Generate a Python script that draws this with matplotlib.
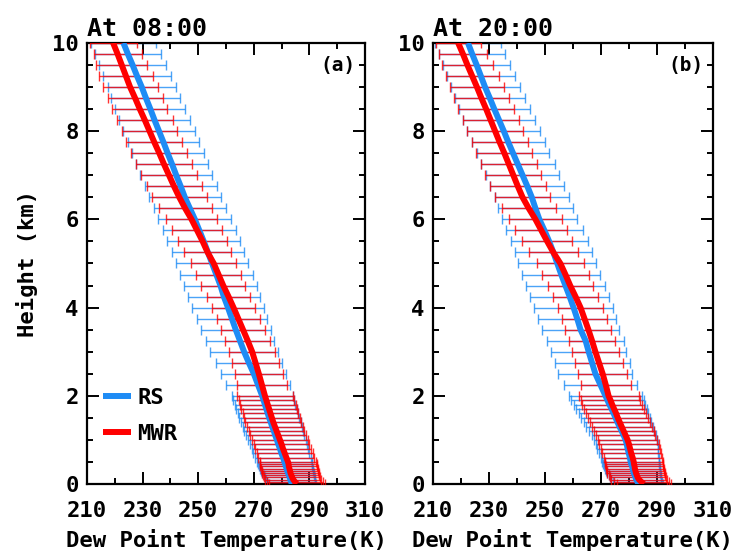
import numpy as np
import matplotlib
matplotlib.use("Agg")
import matplotlib.pyplot as plt
from matplotlib.ticker import MultipleLocator

# ---------------- data ----------------
heights = [0.00, 0.05, 0.10, 0.15, 0.20, 0.25, 0.30, 0.35, 0.40, 0.45, 0.50,
           0.6, 0.7, 0.8, 0.9, 1.0, 1.1, 1.2, 1.3, 1.4, 1.5, 1.6, 1.7, 1.8, 1.9, 2.0,
           2.25, 2.5, 2.75, 3.0, 3.25, 3.5, 3.75, 4.0, 4.25, 4.5, 4.75, 5.0,
           5.25, 5.5, 5.75, 6.0, 6.25, 6.5, 6.75, 7.0, 7.25, 7.5, 7.75, 8.0,
           8.25, 8.5, 8.75, 9.0, 9.25, 9.5, 9.75, 10.0]

# Panel (a) 08:00
rs_08 = [283.7, 283.4, 283.1, 282.9, 282.6, 282.3, 282.0, 281.8, 281.5, 281.3, 281.0,
         280.5, 279.9, 279.4, 278.8, 278.3, 277.7, 277.2, 276.6, 276.1, 275.5, 275.0, 274.5, 274.0, 273.5, 273.0,
         271.5, 270.0, 268.2, 266.5, 265.0, 263.5, 262.1, 260.7, 259.2, 258.0, 256.5, 255.0,
         253.5, 252.0, 250.4, 248.8, 247.0, 245.2, 243.7, 242.1, 240.6, 239.0, 237.5, 235.9,
         234.3, 232.8, 231.2, 229.7, 228.0, 226.4, 224.7, 223.1]
mwr_08 = [285.5, 284.8, 284.2, 283.8, 283.5, 283.2, 283.0, 282.8, 282.6, 282.5, 282.3,
          281.7, 281.1, 280.5, 280.0, 279.4, 278.8, 278.2, 277.6, 277.0, 276.5, 276.0, 275.5, 275.0, 274.5, 274.0,
          272.9, 271.8, 270.6, 269.4, 267.8, 266.1, 264.4, 262.7, 260.9, 259.0, 257.3, 255.6,
          253.4, 251.6, 249.6, 247.6, 245.3, 243.2, 241.3, 239.5, 237.7, 236.0, 234.2, 232.5,
          230.8, 229.0, 227.3, 225.5, 224.0, 222.5, 221.0, 219.4]
rs_err_08 = [8.6, 8.7, 8.8, 9.0, 9.1, 9.2, 9.4, 9.5, 9.6, 9.8, 9.9,
             10.0, 10.1, 10.2, 10.3, 10.4, 10.5, 10.6, 10.6, 10.7, 10.8, 10.8, 10.9, 10.9, 11.0, 11.0,
             11.5, 11.7, 11.9, 12.1, 12.3, 12.5, 12.7, 13.0, 13.0, 13.1, 13.1, 13.0,
             13.0, 13.1, 13.2, 13.1, 13.0, 13.0, 12.9, 12.9, 12.8, 12.9, 12.9, 12.9,
             12.7, 12.6, 12.4, 12.3, 12.2, 12.1, 12.0, 11.8]
mwr_err_08 = [10.0, 10.0, 10.1, 10.1, 10.1, 10.2, 10.2, 10.2, 10.2, 10.2, 10.1,
              10.1, 10.1, 10.1, 10.0, 10.0, 10.0, 10.0, 10.0, 10.0, 10.0, 10.0, 10.0, 10.0, 10.0, 10.0,
              9.0, 8.6, 8.4, 8.3, 8.0, 7.8, 7.7, 7.7, 7.8, 7.9, 8.0, 8.1,
              8.5, 8.8, 9.0, 9.2, 9.5, 9.8, 9.9, 10.0, 10.0, 10.0, 10.0, 10.0,
              10.0, 9.9, 9.9, 9.9, 9.6, 9.2, 8.6, 8.5]

# Panel (b) 20:00
rs_20 = [283.5, 283.0, 282.6, 282.3, 282.0, 281.7, 281.5, 281.3, 281.1, 280.8, 280.6,
         280.3, 279.9, 279.5, 279.2, 278.8, 278.1, 277.4, 276.6, 275.9, 275.2, 274.5, 273.8, 273.0, 272.3, 271.6,
         269.8, 268.0, 266.8, 265.6, 264.5, 262.7, 261.5, 260.2, 258.8, 257.3, 255.8, 254.4,
         253.0, 251.5, 249.8, 248.0, 246.6, 245.3, 243.7, 242.0, 240.3, 238.6, 236.9, 235.3,
         233.6, 231.9, 230.3, 228.6, 227.1, 225.6, 224.0, 222.5]
mwr_20 = [285.3, 284.4, 283.6, 283.1, 282.8, 282.5, 282.3, 282.1, 282.0, 281.8, 281.7,
          281.3, 280.8, 280.4, 280.0, 279.5, 278.8, 278.1, 277.4, 276.7, 276.0, 275.4, 274.7, 274.0, 273.4, 272.7,
          271.7, 270.6, 269.3, 268.0, 266.8, 265.5, 264.1, 262.7, 260.9, 259.0, 257.3, 255.5,
          253.0, 250.8, 248.7, 246.6, 244.2, 242.0, 240.3, 238.7, 237.1, 235.5, 233.8, 232.2,
          230.6, 229.0, 227.3, 225.7, 224.0, 222.3, 220.7, 219.0]
rs_err_20 = [8.7, 8.8, 9.0, 9.1, 9.3, 9.5, 9.6, 9.8, 9.9, 10.0, 10.2,
             10.4, 10.6, 10.8, 11.0, 11.2, 11.4, 11.6, 11.8, 12.0, 12.2, 12.4, 12.6, 12.8, 12.9, 13.0,
             13.1, 13.2, 13.4, 13.5, 13.7, 13.8, 13.9, 14.0, 14.0, 14.0, 14.0, 13.9,
             13.8, 13.7, 13.6, 13.5, 13.4, 13.3, 13.2, 13.1, 13.1, 13.0, 13.0, 13.0,
             12.8, 12.6, 12.5, 12.3, 12.2, 12.0, 11.8, 11.7]
mwr_err_20 = [9.7, 9.8, 9.9, 10.0, 10.1, 10.2, 10.2, 10.3, 10.3, 10.3, 10.4,
              10.4, 10.5, 10.5, 10.6, 10.6, 10.6, 10.7, 10.7, 10.7, 10.7, 10.7, 10.7, 10.7, 10.7, 10.7,
              9.0, 8.8, 8.6, 8.5, 8.3, 8.2, 8.1, 8.0, 8.0, 8.1, 8.3, 8.5,
              8.8, 9.0, 9.3, 9.5, 9.7, 9.9, 10.0, 10.0, 10.0, 10.0, 10.0, 10.0,
              10.0, 9.9, 9.8, 9.6, 9.4, 9.0, 8.6, 8.0]

titles = ["At 08:00", "At 20:00"]
panel_tags = ["(a)", "(b)"]
xticks = [210, 230, 250, 270, 290, 310]
yticks = [0, 2, 4, 6, 8, 10]
series_labels = ["RS", "MWR"]
xlabel = "Dew Point Temperature(K)"
ylabel = "Height (km)"

# ---------------- style ----------------
BLUE = "#1E8CF5"
RED = "#FF0000"
FONT = "DejaVu Sans Mono"

plt.rcParams["font.family"] = FONT
plt.rcParams["font.weight"] = "bold"

fig = plt.figure(figsize=(7.33, 5.51), dpi=100)
axes_pos = [[0.1187, 0.1216, 0.3793, 0.8004],
            [0.5907, 0.1216, 0.3820, 0.8004]]

panels = [(rs_08, rs_err_08, mwr_08, mwr_err_08),
          (rs_20, rs_err_20, mwr_20, mwr_err_20)]

for i, (rs, rs_e, mwr, mwr_e) in enumerate(panels):
    ax = fig.add_axes(axes_pos[i])
    ax.errorbar(rs, heights, xerr=rs_e, fmt="none", ecolor=BLUE,
                elinewidth=1.0, capsize=3.5, capthick=1.0, alpha=0.8, zorder=2)
    ax.errorbar(mwr, heights, xerr=mwr_e, fmt="none", ecolor=RED,
                elinewidth=1.0, capsize=3.5, capthick=1.0, alpha=0.8, zorder=3)
    ax.plot(rs, heights, color=BLUE, lw=4.3, solid_capstyle="butt",
            label=series_labels[0], zorder=4)
    ax.plot(mwr, heights, color=RED, lw=4.3, solid_capstyle="butt",
            label=series_labels[1], zorder=5)

    ax.set_xlim(210, 310)
    ax.set_ylim(0, 10)
    ax.set_xticks(xticks)
    ax.set_yticks(yticks)
    ax.xaxis.set_minor_locator(MultipleLocator(10))
    ax.yaxis.set_minor_locator(MultipleLocator(0.5))
    ax.tick_params(which="both", direction="in", top=True, right=True, width=1.4)
    ax.tick_params(which="major", length=8.5)
    ax.tick_params(which="minor", length=4.5)
    ax.tick_params(axis="x", which="major", pad=12, labelsize=16)
    ax.tick_params(axis="y", which="major", pad=6, labelsize=16)
    for lab in ax.get_xticklabels() + ax.get_yticklabels():
        lab.set_fontweight("bold")
    for sp in ax.spines.values():
        sp.set_linewidth(1.6)

    ax.set_xlabel(xlabel, fontsize=16, fontweight="bold", labelpad=6)
    if i == 0:
        ax.set_ylabel(ylabel, fontsize=16, fontweight="bold", labelpad=10)
        ax.legend(loc="lower left", bbox_to_anchor=(0.0, 0.055), frameon=False,
                  handlelength=1.3, handletextpad=0.25, labelspacing=0.75,
                  borderaxespad=0.3,
                  prop={"family": FONT, "weight": "bold", "size": 16})
    ax.set_title(titles[i], loc="left", fontsize=18, fontweight="bold", pad=5)
    ax.text(0.965, 0.95, panel_tags[i], transform=ax.transAxes, ha="right",
            va="center", fontsize=14, fontweight="bold")

fig.savefig("out.png", dpi=100)
